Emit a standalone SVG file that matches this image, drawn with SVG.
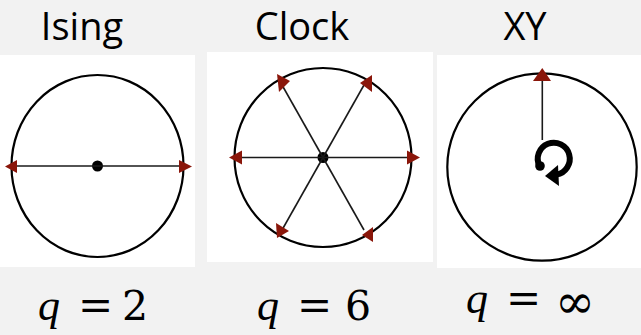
<svg xmlns="http://www.w3.org/2000/svg" width="641" height="335" viewBox="0 0 641 335">
<style>
.panel{fill:#ffffff}
.ring{fill:none;stroke:#000;stroke-width:2.2}
.ray{stroke:#1a1a1a;stroke-width:1.6;fill:none}
.head{fill:#8a160a}
.title{font-family:"Open Sans","Noto Sans",sans-serif;font-size:38px;fill:#000;text-anchor:middle}
.mq{font-family:"Liberation Serif",serif;font-style:italic;font-size:44px;fill:#000}
.meq{font-family:"DejaVu Serif",serif;font-size:42px;fill:#000}
.mnum{font-family:"DejaVu Serif",serif;font-size:41px;fill:#000}
.minf{font-family:"DejaVu Serif",serif;font-size:48px;fill:#000}
</style>
<rect width="641" height="335" fill="#f2f2f2"/>

<g id="ising">
<rect class="panel" x="0" y="55" width="195" height="212"/>
<ellipse class="ring" cx="97.5" cy="166" rx="86" ry="91"/>
<circle cx="97.5" cy="166" r="5.5" fill="#000"/>
<text class="title" x="82" y="40">Ising</text>
<text class="mq" x="38" y="320">q</text>
<text class="meq" x="78" y="320">=</text>
<text class="mnum" x="122" y="320">2</text>
</g>

<g id="clock">
<rect class="panel" x="207" y="52" width="226" height="210"/>
<ellipse class="ring" cx="323" cy="157.5" rx="88.5" ry="89.5"/>
<circle cx="323" cy="157.5" r="5.5" fill="#000"/>
<text class="title" x="302" y="40">Clock</text>
<text class="mq" x="257" y="320">q</text>
<text class="meq" x="297" y="320">=</text>
<text class="mnum" x="345" y="320">6</text>
</g>

<g id="xy">
<rect class="panel" x="437" y="55" width="204" height="213"/>
<ellipse class="ring" cx="542" cy="167" rx="94.7" ry="93.7"/>
<path d="M539.5,166 A16,16 0 1 1 556.5,174.5" fill="none" stroke="#000" stroke-width="6"/>
<circle cx="540" cy="166" r="4.8" fill="#000"/>
<polygon points="545,176 558,165 559,186" fill="#000"/>
<text class="title" x="525" y="40">XY</text>
<text class="mq" x="466" y="313">q</text>
<text class="meq" x="506" y="313">=</text>
<text class="minf" x="555" y="318">∞</text>
</g>

<g id="connectors">
<line class="ray" x1="14" y1="166" x2="181" y2="166"/>
<line class="ray" x1="240" y1="157.5" x2="408" y2="157.5"/>
<line class="ray" x1="323" y1="157.5" x2="282" y2="85"/>
<line class="ray" x1="323" y1="157.5" x2="364" y2="85"/>
<line class="ray" x1="323" y1="157.5" x2="282" y2="230"/>
<line class="ray" x1="323" y1="157.5" x2="364" y2="230"/>
<line class="ray" x1="542.3" y1="79" x2="542.3" y2="140"/>
<polygon class="head" points="5,166.5 17,160 17,173"/>
<polygon class="head" points="192,166.5 179,160 179,173"/>
<polygon class="head" points="229,157.5 242,150.5 242,164.5"/>
<polygon class="head" points="420,157.5 407,150.5 407,164.5"/>
<polygon class="head" points="290,81 277,74 279,92"/>
<polygon class="head" points="360,83 372,75 372,92"/>
<polygon class="head" points="289,231 276,223 277,238"/>
<polygon class="head" points="362,235 373,227 373,242"/>
<polygon class="head" points="542.3,68 533,81 551,81"/>
</g>
</svg>
